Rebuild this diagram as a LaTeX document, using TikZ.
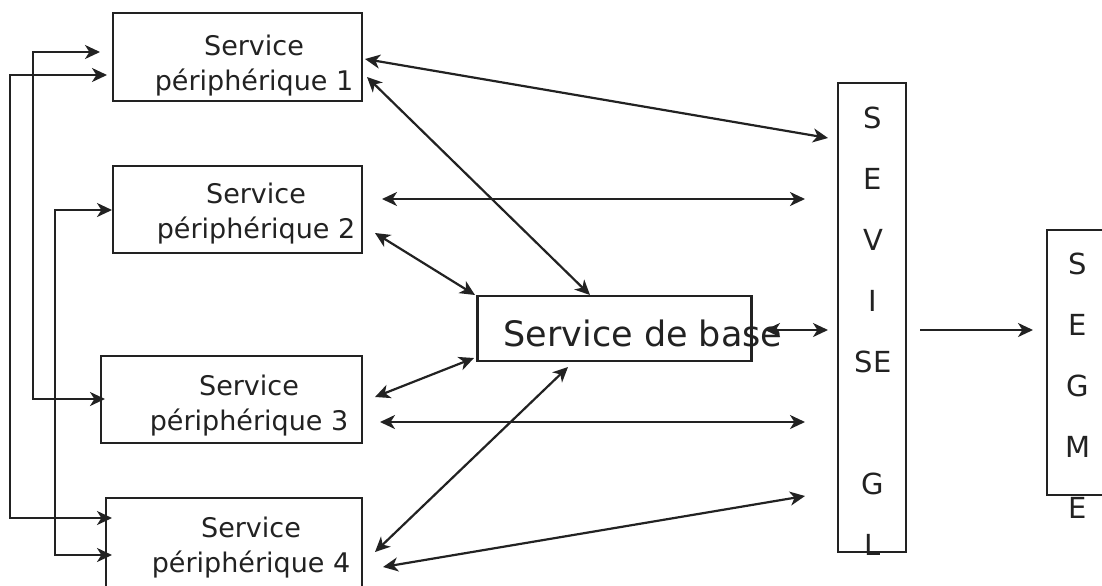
\documentclass[tikz,border=0pt]{standalone}
\usepackage{fontspec}
\setmainfont{DejaVu Sans}
\usetikzlibrary{arrows.meta}
\definecolor{ink}{HTML}{222222}
\tikzset{
  box/.style={draw=ink, line width=1.1pt, inner sep=0pt, anchor=center},
  lbl/.style={align=center, inner sep=0pt, text=ink, font=\fontsize{13.5}{17.5}\selectfont},
  col/.style={align=center, inner sep=0pt, text=ink, font=\fontsize{14.5}{30.5}\selectfont},
  conn/.style={draw=ink, line width=1.1pt},
  bi/.style={conn, {Stealth[length=7.5pt,width=7pt,inset=2.2pt]}-{Stealth[length=7.5pt,width=7pt,inset=2.2pt]}},
  uni/.style={conn, -{Stealth[length=7.5pt,width=7pt,inset=2.2pt]}}
}
\begin{document}
\begin{tikzpicture}[x=0.5pt,y=-0.5pt]
\clip (0,0) rectangle (1102,585);
\fill[white] (0,0) rectangle (1102,585);
% boxes
\node[box, minimum width=124.5pt, minimum height=44pt] (b1) at (237.5,57) {};
\node[box, minimum width=124.5pt, minimum height=43.5pt] (b2) at (237.5,209.5) {};
\node[box, minimum width=130.5pt, minimum height=43.5pt] (b3) at (231.5,399.5) {};
\node[box, minimum width=128pt, minimum height=44.5pt] (b4) at (234,542.5) {};
\node[box, minimum width=137pt, minimum height=32.5pt] (base) at (614.5,328.5) {};
\node[box, minimum width=34pt, minimum height=234.5pt] (sev) at (872,317.5) {};
\node[box, minimum width=41.5pt, minimum height=132.5pt] (seg) at (1088.5,362.5) {};
% texts
\node[lbl] (t1) at (254,66) {Service\\périphérique 1};
\node[lbl] (t2) at (256,214) {Service\\périphérique 2};
\node[lbl] (t3) at (249,406) {Service\\périphérique 3};
\node[lbl] (t4) at (251,548) {Service\\périphérique 4};
\node[inner sep=0pt, text=ink, font=\fontsize{17.5}{20}\selectfont] (tb) at (643,333) {Service de base};
\node[col] (tsev) at (873,331) {S\\E\\V\\I\\SE\\[30.5pt]G\\L};
\node[col] (tseg) at (1078,386) {S\\E\\G\\M\\E};
% left feedback lines
\coordinate (a1) at (107,75);
\coordinate (ca) at (10,75);
\coordinate (a4) at (112,518);
\coordinate (bb1) at (100,52);
\coordinate (cb) at (33,52);
\coordinate (bb3) at (105,399);
\coordinate (c2) at (112,210);
\coordinate (cc) at (55,210);
\coordinate (c4) at (112,555);
\draw[bi] (a1) -- (ca) |- (a4);
\draw[bi] (bb1) -- (cb) |- (bb3);
\draw[bi] (c2) -- (cc) |- (c4);
% right connectors
\coordinate (r1a) at (365,59);   \coordinate (r1b) at (828,138);
\coordinate (r2a) at (367,77);   \coordinate (r2b) at (590,295);
\coordinate (r3a) at (382,199);  \coordinate (r3b) at (805,199);
\coordinate (r4a) at (375,233);  \coordinate (r4b) at (475,295);
\coordinate (r5a) at (765,330);  \coordinate (r5b) at (828,330);
\coordinate (r6a) at (375,397);  \coordinate (r6b) at (474,358);
\coordinate (r7a) at (380,422);  \coordinate (r7b) at (805,422);
\coordinate (r8a) at (375,552);  \coordinate (r8b) at (568,367);
\coordinate (r9a) at (383,567);  \coordinate (r9b) at (805,496);
\coordinate (r10a) at (920,330); \coordinate (r10b) at (1033,330);
\draw[bi] (r1a) -- (r1b);
\draw[bi] (r2a) -- (r2b);
\draw[bi] (r3a) -- (r3b);
\draw[bi] (r4a) -- (r4b);
\draw[bi] (r5a) -- (r5b);
\draw[bi] (r6a) -- (r6b);
\draw[bi] (r7a) -- (r7b);
\draw[bi] (r8a) -- (r8b);
\draw[bi] (r9a) -- (r9b);
\draw[uni] (r10a) -- (r10b);
\end{tikzpicture}
\end{document}
